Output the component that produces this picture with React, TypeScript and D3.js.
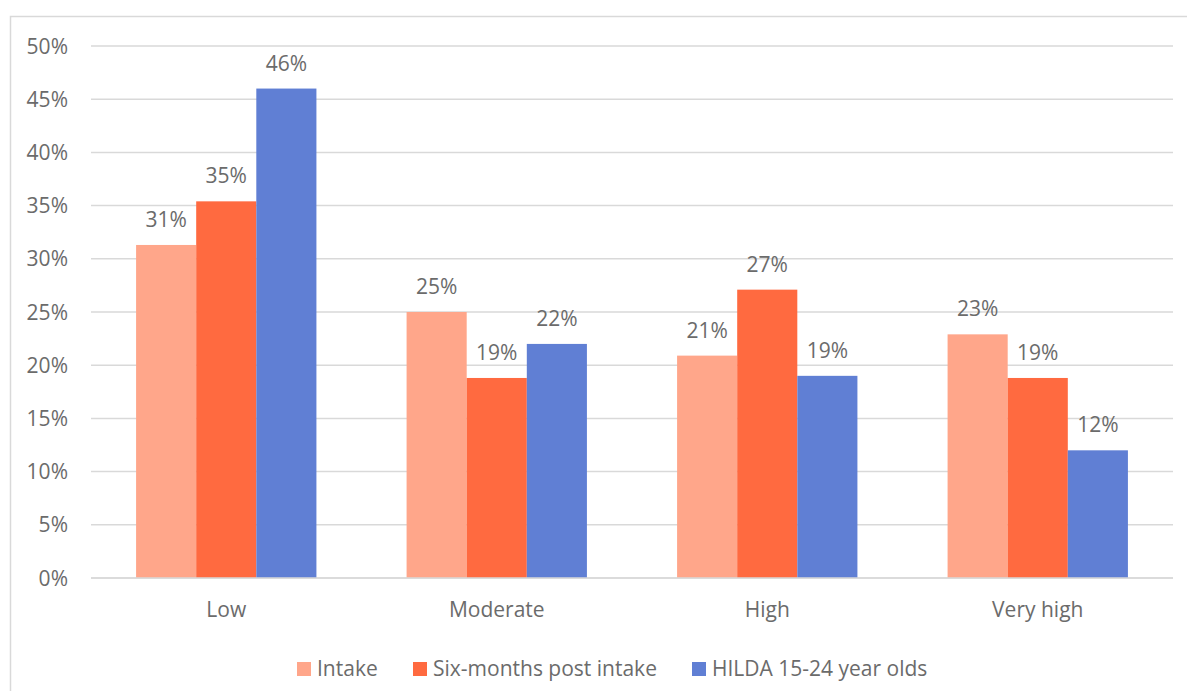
import React from "react";
import * as d3 from "d3";

const categories = ["Low", "Moderate", "High", "Very high"];
const seriesNames = ["Intake", "Six-months post intake", "HILDA 15-24 year olds"];
const intake = [31.3, 25.0, 20.9, 22.9];
const sixMonths = [35.4, 18.8, 27.1, 18.8];
const hilda = [46.0, 22.0, 19.0, 12.0];
const yTicks = [0, 5, 10, 15, 20, 25, 30, 35, 40, 45, 50];
const seriesColors = ["#FFA68A", "#FF6A40", "#607FD4"];

const W = 1187;
const H = 691;
const FONT = "'Open Sans', 'Noto Sans', sans-serif";
const TEXT = "#6b6b6b";
const GRID = "#d9d9d9";

export default function App() {
  const values = [intake, sixMonths, hilda];

  const x0 = d3.scaleBand<string>().domain(categories).range([91, 1173]).padding(0);
  const x1 = d3
    .scaleBand<string>()
    .domain(seriesNames)
    .range([0, x0.bandwidth()])
    .paddingInner(0)
    .paddingOuter(0.75);
  const y = d3.scaleLinear().domain([0, 50]).range([578, 46]);

  // legend layout: swatch x and label x
  const legendItems = [
    { sx: 297, tx: 317 },
    { sx: 413, tx: 433 },
    { sx: 692, tx: 712 },
  ];

  return (
    <svg
      width={W}
      height={H}
      style={{ position: "fixed", left: 0, top: 0, background: "#fff" }}
      fontFamily={FONT}
    >
      {/* chart area border */}
      <rect x={10.5} y={16.5} width={W + 20} height={H + 20} fill="#fff" stroke={GRID} strokeWidth={1.5} />

      {/* gridlines and y axis labels */}
      {yTicks.map((t) => (
        <g key={t}>
          <line x1={91} x2={1173} y1={y(t)} y2={y(t)} stroke={GRID} strokeWidth={1.5} />
          <text x={68} y={y(t) + 7.5} textAnchor="end" fontSize={21} fill={TEXT}>
            {t}%
          </text>
        </g>
      ))}

      {/* bars */}
      {categories.map((c, ci) => (
        <g key={c} transform={`translate(${x0(c)},0)`}>
          {seriesNames.map((s, si) => {
            const v = values[si][ci];
            const bx = x1(s)!;
            return (
              <g key={s}>
                <rect
                  x={bx}
                  y={y(v)}
                  width={x1.bandwidth()}
                  height={y(0) - y(v)}
                  fill={seriesColors[si]}
                />
                <text
                  x={bx + x1.bandwidth() / 2}
                  y={y(v) - 18}
                  textAnchor="middle"
                  fontSize={21}
                  fill={TEXT}
                >
                  {d3.format(".0f")(v)}%
                </text>
              </g>
            );
          })}
        </g>
      ))}

      {/* x axis line */}
      <line x1={91} x2={1173} y1={y(0)} y2={y(0)} stroke={GRID} strokeWidth={1.5} />

      {/* category labels */}
      {categories.map((c) => (
        <text
          key={c}
          x={x0(c)! + x0.bandwidth() / 2}
          y={617}
          textAnchor="middle"
          fontSize={21}
          fill={TEXT}
        >
          {c}
        </text>
      ))}

      {/* legend */}
      {seriesNames.map((s, i) => (
        <g key={s}>
          <rect x={legendItems[i].sx} y={662} width={14} height={14} fill={seriesColors[i]} />
          <text x={legendItems[i].tx} y={676} fontSize={21} fill={TEXT}>
            {s}
          </text>
        </g>
      ))}
    </svg>
  );
}
